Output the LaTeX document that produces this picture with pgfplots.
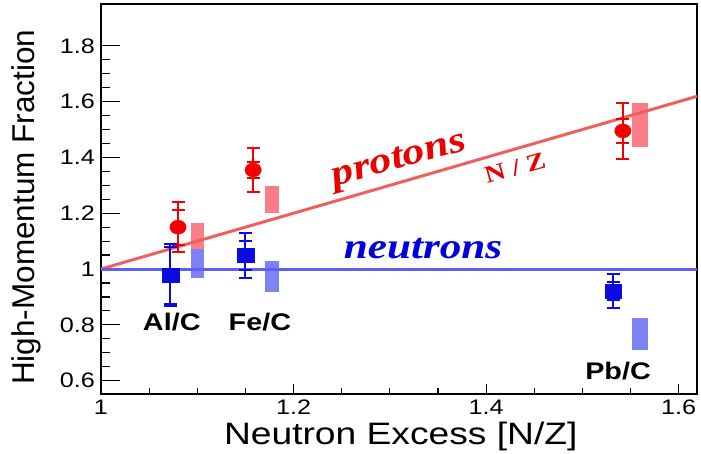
\documentclass[border=0pt]{standalone}
\usepackage{fontspec}
\setmainfont{Liberation Sans}
\newfontfamily\sansst[FakeStretch=1.2]{Liberation Sans}
\newfontfamily\serifst[FakeStretch=1.2]{Liberation Serif}
\usepackage{pgfplots}
\pgfplotsset{compat=1.18}
\definecolor{lred}{RGB}{240,95,95}
\definecolor{lblue}{RGB}{95,95,240}
\definecolor{boxred}{RGB}{250,125,135}
\definecolor{boxblue}{RGB}{125,130,245}
\definecolor{mred}{RGB}{245,0,0}
\definecolor{mblue}{RGB}{10,10,225}
\definecolor{tred}{RGB}{235,0,0}
\definecolor{tblue}{RGB}{0,0,220}
\begin{document}
\begin{tikzpicture}
\useasboundingbox (-101pt,-60pt) rectangle (600pt,394pt);
\begin{axis}[
  at={(0,0)}, anchor=south west,
  scale only axis, width=596pt, height=390pt,
  xmin=1, xmax=1.619, ymin=0.552, ymax=1.95,
  axis line style={line width=1.5pt},
  xtick={1,1.2,1.4,1.6}, ytick={0.6,0.8,1,1.2,1.4,1.6,1.8},
  minor x tick num=3, minor y tick num=3,
  tick pos=left,
  tick align=inside,
  major tick length=19pt, minor tick length=9pt,
  xtick style={/pgfplots/major tick length=10pt,/pgfplots/minor tick length=5.5pt},
  tick style={line width=1.2pt, black},
  ticklabel style={font=\sansst\fontsize{21}{25}\selectfont, inner sep=0pt},
  /pgf/number format/assume math mode=true,
  yticklabel style={xshift=-6pt},
  xticklabel style={yshift=-6pt},
  clip=false,
]
% systematic boxes
\addplot[fill=boxred, draw=none] coordinates {(1.093,1.071) (1.107,1.071) (1.107,1.166) (1.093,1.166)} --cycle;
\addplot[fill=boxred, draw=none] coordinates {(1.170,1.200) (1.185,1.200) (1.185,1.297) (1.170,1.297)} --cycle;
\addplot[fill=boxred, draw=none] coordinates {(1.552,1.438) (1.568,1.438) (1.568,1.596) (1.552,1.596)} --cycle;
\addplot[fill=boxblue, draw=none] coordinates {(1.093,0.967) (1.107,0.967) (1.107,1.071) (1.093,1.071)} --cycle;
\addplot[fill=boxblue, draw=none] coordinates {(1.170,0.919) (1.185,0.919) (1.185,1.029) (1.170,1.029)} --cycle;
\addplot[fill=boxblue, draw=none] coordinates {(1.552,0.709) (1.568,0.709) (1.568,0.825) (1.552,0.825)} --cycle;
% lines
\addplot[lred, line width=3pt] coordinates {(1,1) (1.619,1.619)};
\addplot[lblue, line width=3pt] coordinates {(1,1) (1.619,1)};
% protons outer errors
\addplot[draw=none, mark=none, error bars/.cd, y dir=both, y explicit,
  error bar style={draw=mred, line width=2pt},
  error mark options={draw=mred, rotate=90, mark size=6.5pt, line width=2pt}]
  coordinates {(1.080,1.150) +- (0,0.09) (1.158,1.355) +- (0,0.08) (1.542,1.495) +- (0,0.10)};
% protons inner errors + markers
\addplot[only marks, mark=*, mark size=7pt, mark options={draw=mred, fill=mred, xscale=1.17},
  error bars/.cd, y dir=both, y explicit,
  error bar style={draw=mred, line width=2pt},
  error mark options={draw=mred, rotate=90, mark size=6.5pt, line width=2pt, xscale=1}]
  coordinates {(1.080,1.150) +- (0,0.063) (1.158,1.355) +- (0,0.028) (1.542,1.495) +- (0,0.042)};
% neutrons outer errors
\addplot[draw=none, mark=none, error bars/.cd, y dir=both, y explicit,
  error bar style={draw=mblue, line width=2pt},
  error mark options={draw=mblue, rotate=90, mark size=6.5pt, line width=2pt}]
  coordinates {(1.072,0.978) +- (0,0.11) (1.150,1.049) +- (0,0.08) (1.532,0.921) +- (0,0.06)};
% neutrons inner errors + markers
\addplot[only marks, mark=square*, mark size=7pt, mark options={draw=mblue, fill=mblue, xscale=1.2, yscale=0.95},
  error bars/.cd, y dir=both, y explicit,
  error bar style={draw=mblue, line width=2pt},
  error mark options={draw=mblue, rotate=90, mark size=6.5pt, line width=2pt}]
  coordinates {(1.072,0.978) +- (0,0.102) (1.150,1.049) +- (0,0.053) (1.532,0.921) +- (0,0.031)};
% texts
\node[rotate=15.5, text=tred, font=\serifst\bfseries\itshape\fontsize{37}{40}\selectfont] at (axis cs:1.310,1.385) {protons};
\node[rotate=15.5, text=tred, font=\serifst\bfseries\fontsize{24}{28}\selectfont] at (axis cs:1.430,1.362) {N / Z};
\node[anchor=base, text=tblue, font=\serifst\bfseries\itshape\fontsize{36}{40}\selectfont] at (axis cs:1.3345,1.036) {neutrons};
\node[anchor=base, font=\sansst\bfseries\fontsize{24}{28}\selectfont] at (axis cs:1.0735,0.780) {Al/C};
\node[anchor=base, font=\sansst\bfseries\fontsize{24}{28}\selectfont] at (axis cs:1.165,0.780) {Fe/C};
\node[anchor=base, font=\sansst\bfseries\fontsize{24}{28}\selectfont] at (axis cs:1.537,0.605) {Pb/C};
\node[anchor=base, font=\sansst\fontsize{31}{36}\selectfont] at ([yshift=-51pt]rel axis cs:0.503,0) {Neutron Excess [N/Z]};
\node[rotate=90, anchor=base, font=\fontsize{31.5}{36}\selectfont] at ([xshift=-66pt]rel axis cs:0,0.479) {High-Momentum Fraction};
\end{axis}
\end{tikzpicture}
\end{document}
